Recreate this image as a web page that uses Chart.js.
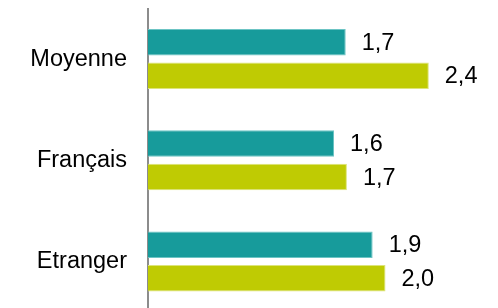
<!DOCTYPE html>
<html>
<head>
<meta charset="utf-8">
<script src="https://cdn.jsdelivr.net/npm/chart.js@4"></script>
<style>
html,body{margin:0;padding:0;overflow:hidden;background:#fff;}
canvas{display:block;}
</style>
</head>
<body>
<canvas id="c" width="498" height="312" style="width:498px;height:312px;"></canvas>
<script>
const categories = ["Moyenne", "Français", "Etranger"];
const serieA = [1.69, 1.59, 1.92];
const serieB = [2.40, 1.70, 2.03];
const colorA = "#179b9b";
const colorB = "#bfcb03";

const valueLabels = {
  id: "valueLabels",
  afterDatasetsDraw(chart) {
    const ctx = chart.ctx;
    ctx.save();
    ctx.font = "23.5px 'Liberation Sans', Arial, sans-serif";
    ctx.fillStyle = "#000";
    ctx.textAlign = "left";
    ctx.textBaseline = "middle";
    chart.data.datasets.forEach((ds, i) => {
      const meta = chart.getDatasetMeta(i);
      meta.data.forEach((bar, j) => {
        const txt = ds.data[j].toFixed(1).replace(".", ",");
        ctx.fillText(txt, bar.x + 16, bar.y + 1);
      });
    });
    ctx.restore();
  }
};

new Chart(document.getElementById("c"), {
  type: "bar",
  data: {
    labels: categories,
    datasets: [
      { data: serieA, backgroundColor: colorA, borderColor: "#6cc4c4", borderWidth: 1, borderSkipped: "left", categoryPercentage: 0.663, barPercentage: 0.79 },
      { data: serieB, backgroundColor: colorB, borderColor: "#dde47a", borderWidth: 1, borderSkipped: "left", categoryPercentage: 0.663, barPercentage: 0.79 }
    ]
  },
  options: {
    indexAxis: "y",
    responsive: false,
    maintainAspectRatio: false,
    animation: false,
    devicePixelRatio: 1,
    layout: { padding: { top: 8.5, right: 10.7, bottom: 0, left: 0 } },
    plugins: { legend: { display: false }, tooltip: { enabled: false } },
    scales: {
      x: { display: false, min: 0, max: 2.9 },
      y: {
        afterFit(scale) { scale.width = 148; scale.paddingTop = 0; scale.paddingBottom = 0; },
        grid: { display: true, color: "rgba(0,0,0,0)", drawTicks: false },
        border: { display: true, color: "#8c8c8c", width: 2 },
        ticks: { color: "#000", padding: 21, font: { family: "'Liberation Sans', Arial, sans-serif", size: 23.5 } }
      }
    }
  },
  plugins: [valueLabels]
});
</script>
</body>
</html>
